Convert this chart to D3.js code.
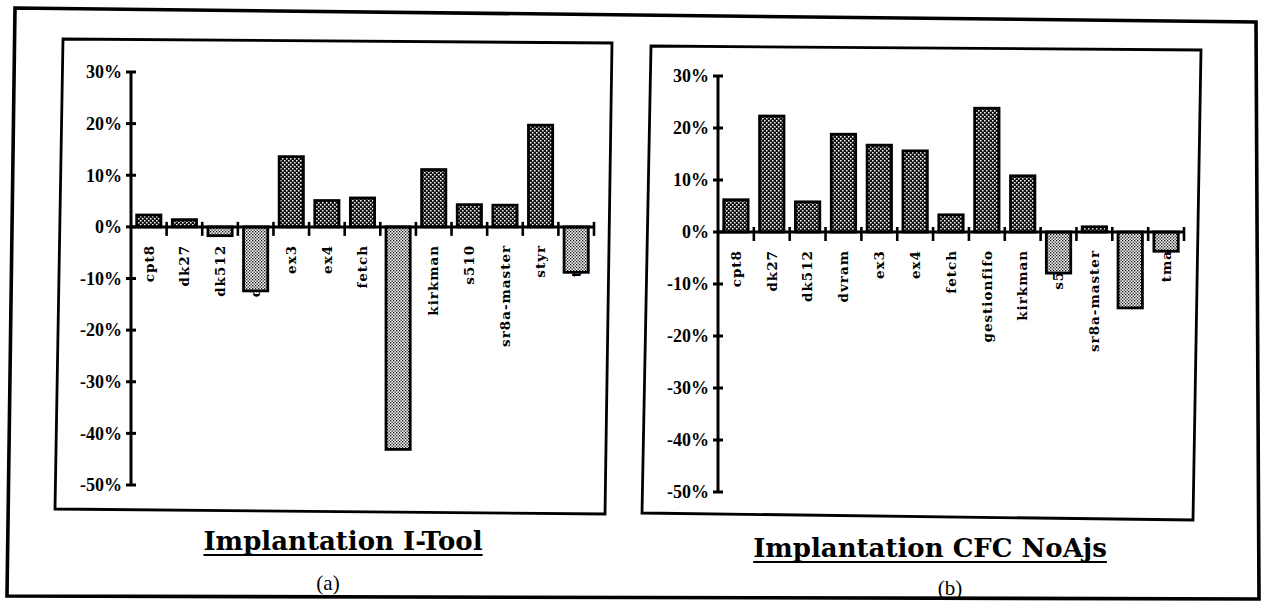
<!DOCTYPE html>
<html>
<head>
<meta charset="utf-8">
<script src="https://cdn.jsdelivr.net/npm/d3@7"></script>
<style>
  html, body { margin: 0; padding: 0; background: #fff; }
  svg { display: block; }
</style>
</head>
<body>
<svg id="chart" width="1262" height="607"></svg>
<script>
// ---- data ----
const categories = ["cpt8","dk27","dk512","dvram","ex3","ex4","fetch","gestionfifo","kirkman","s510","sr8a-master","styr","tma"];
const valuesITool = [2.3, 1.4, -1.7, -12.4, 13.6, 5.1, 5.6, -43.1, 11.1, 4.3, 4.2, 19.7, -8.8];
const valuesCFC   = [6.2, 22.3, 5.8, 18.8, 16.7, 15.6, 3.3, 23.8, 10.8, -7.9, 1.0, -14.6, -3.7];
const yTicks = [30, 20, 10, 0, -10, -20, -30, -40, -50];
const titles = ["Implantation I-Tool", "Implantation CFC NoAjs"];
const subLabels = ["(a)", "(b)"];

const svg = d3.select("#chart");

// patterns
const defs = svg.append("defs");
const pPos = defs.append("pattern").attr("id", "patPos").attr("patternUnits", "userSpaceOnUse")
  .attr("width", 4).attr("height", 4);
pPos.append("rect").attr("width", 4).attr("height", 4).attr("fill", "#111");
pPos.append("rect").attr("x", 0).attr("y", 0).attr("width", 1.5).attr("height", 1.5).attr("fill", "#fff");
pPos.append("rect").attr("x", 2).attr("y", 2).attr("width", 1.5).attr("height", 1.5).attr("fill", "#fff");

const pNeg = defs.append("pattern").attr("id", "patNeg").attr("patternUnits", "userSpaceOnUse")
  .attr("width", 3).attr("height", 3);
pNeg.append("rect").attr("width", 3).attr("height", 3).attr("fill", "#f4f4f4");
pNeg.append("rect").attr("x", 0).attr("y", 0).attr("width", 1.3).attr("height", 1.3).attr("fill", "#111");
pNeg.append("rect").attr("x", 1.5).attr("y", 1.5).attr("width", 1.3).attr("height", 1.3).attr("fill", "#111");

// outer frame (slightly skewed like the scan)
svg.append("polygon")
  .attr("points", "15,8 1256,22 1259,599 7,596")
  .attr("fill", "none").attr("stroke", "#000").attr("stroke-width", 3.6);

const panels = [
  { values: valuesITool, title: titles[0], sub: subLabels[0],
    box: "63,39 612,43 605,514 55,509",
    axisX: 131, xEnd: 594, yTop: 72, yBot: 485,
    titleX: 343, titleY: 550, subX: 328, subY: 590 },
  { values: valuesCFC, title: titles[1], sub: subLabels[1],
    box: "651,46 1201,50 1193,520 642,513",
    axisX: 718, xEnd: 1184, yTop: 76, yBot: 492,
    titleX: 930, titleY: 557, subX: 950, subY: 595 }
];

panels.forEach(p => {
  const g = svg.append("g");
  g.append("polygon").attr("points", p.box)
    .attr("fill", "none").attr("stroke", "#000").attr("stroke-width", 2.8);

  const y = d3.scaleLinear().domain([30, -50]).range([p.yTop, p.yBot]);
  const x = d3.scaleBand().domain(categories).range([p.axisX, p.xEnd])
    .paddingInner(0.32).paddingOuter(0.16);
  const y0 = y(0);

  // category labels (drawn beneath bars)
  g.append("g").selectAll("text").data(categories).join("text")
    .attr("transform", d => `translate(${x(d) + x.bandwidth() / 2},${y0 + 18}) rotate(-90)`)
    .attr("text-anchor", "end")
    .attr("dy", "0.35em")
    .style("font-family", "'DejaVu Serif', serif")
    .style("font-weight", "bold")
    .style("font-size", "13.5px")
    .style("letter-spacing", "1px")
    .text(d => d);

  // bars
  const data = categories.map((c, i) => ({ c, v: p.values[i] }));
  g.append("g").selectAll("rect").data(data).join("rect")
    .attr("x", d => x(d.c))
    .attr("width", x.bandwidth())
    .attr("y", d => d.v >= 0 ? y(d.v) : y0)
    .attr("height", d => Math.abs(y(d.v) - y0))
    .attr("fill", d => d.v >= 0 ? "url(#patPos)" : "url(#patNeg)")
    .attr("stroke", "#000").attr("stroke-width", 2.8);

  // y axis
  const yAxis = d3.axisLeft(y).tickValues(yTicks).tickFormat(d => d + "%").tickSize(0).tickPadding(9);
  const ya = g.append("g").attr("transform", `translate(${p.axisX},0)`).call(yAxis);
  ya.select(".domain").remove();
  ya.selectAll("text")
    .style("font-family", "'Liberation Serif', 'Times New Roman', serif")
    .style("font-weight", "bold")
    .style("font-size", "18px")
    .attr("fill", "#000");
  g.append("line").attr("x1", p.axisX).attr("x2", p.axisX).attr("y1", p.yTop).attr("y2", p.yBot)
    .attr("stroke", "#000").attr("stroke-width", 3);
  g.append("g").selectAll("line").data(yTicks).join("line")
    .attr("x1", p.axisX - 5).attr("x2", p.axisX + 5)
    .attr("y1", d => y(d)).attr("y2", d => y(d))
    .attr("stroke", "#000").attr("stroke-width", 3);

  // x axis line and boundary ticks
  g.append("line").attr("x1", p.axisX).attr("x2", p.xEnd).attr("y1", y0).attr("y2", y0)
    .attr("stroke", "#000").attr("stroke-width", 3);
  const off = x.step() * x.paddingOuter();
  g.append("g").selectAll("line").data(categories).join("line")
    .attr("x1", d => x(d) + x.bandwidth() + off)
    .attr("x2", d => x(d) + x.bandwidth() + off)
    .attr("y1", y0 - 5).attr("y2", y0 + 9)
    .attr("stroke", "#000").attr("stroke-width", 2.6);

  // title
  const t = g.append("text")
    .attr("x", p.titleX).attr("y", p.titleY)
    .attr("text-anchor", "middle")
    .style("font-family", "'DejaVu Serif', serif")
    .style("font-weight", "bold")
    .style("font-size", "26px")
    .text(p.title);
  const tw = t.node().getComputedTextLength();
  g.append("line")
    .attr("x1", p.titleX - tw / 2).attr("x2", p.titleX + tw / 2)
    .attr("y1", p.titleY + 5).attr("y2", p.titleY + 5)
    .attr("stroke", "#000").attr("stroke-width", 2);

  g.append("text")
    .attr("x", p.subX).attr("y", p.subY)
    .attr("text-anchor", "middle")
    .style("font-family", "'Liberation Serif', 'Times New Roman', serif")
    .style("font-size", "21px")
    .text(p.sub);
});
</script>
</body>
</html>
